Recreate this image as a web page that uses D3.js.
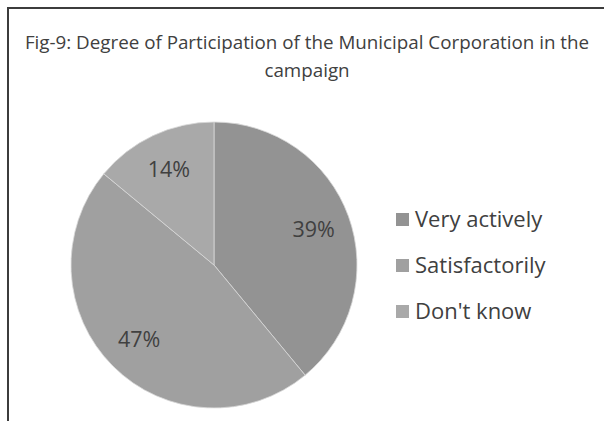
<!DOCTYPE html>
<html>
<head>
<meta charset="utf-8">
<script src="https://cdn.jsdelivr.net/npm/d3@7"></script>
<style>
  html, body { margin: 0; padding: 0; background: #fff; }
  svg { display: block; }
</style>
</head>
<body>
<div id="chart"></div>
<script>
// Survey responses: municipal corporation participation
const categories = ["Very actively", "Satisfactorily", "Don't know"];
const values = [39, 47, 14];
const colors = ["#939393", "#a0a0a0", "#a9a9a9"];
const titleLines = ["Fig-9: Degree of Participation of the Municipal Corporation in the", "campaign"];

const W = 604, H = 421;
const font = "'Open Sans', 'DejaVu Sans', sans-serif";

const svg = d3.select("#chart").append("svg")
  .attr("width", W).attr("height", H);

svg.append("rect").attr("width", W).attr("height", H).attr("fill", "#fff");

// frame: top and left edges visible
svg.append("path")
  .attr("d", "M8,421 V8 H604")
  .attr("fill", "none")
  .attr("stroke", "#3c3c3c")
  .attr("stroke-width", 2);

// title
svg.append("text")
  .attr("x", 307).attr("y", 49)
  .attr("text-anchor", "middle")
  .attr("font-family", font).attr("font-size", 18.8)
  .attr("fill", "#404040")
  .selectAll("tspan").data(titleLines).join("tspan")
  .attr("x", 307)
  .attr("dy", (d, i) => i === 0 ? 0 : 28)
  .text(d => d);

// pie
const cx = 214, cy = 265, r = 143;
const pie = d3.pie().sort(null).value(d => d)(values);
const arc = d3.arc().innerRadius(0).outerRadius(r);
const labelArc = d3.arc().innerRadius(r * 0.74).outerRadius(r * 0.74);

const g = svg.append("g").attr("transform", `translate(${cx},${cy})`);
g.selectAll("path").data(pie).join("path")
  .attr("d", arc)
  .attr("fill", (d, i) => colors[i])
  .attr("stroke", "#d8d8d8")
  .attr("stroke-width", 0.8);

g.selectAll("text").data(pie).join("text")
  .attr("transform", d => `translate(${labelArc.centroid(d)})`)
  .attr("text-anchor", "middle")
  .attr("dy", "0.35em")
  .attr("font-family", font).attr("font-size", 21.5)
  .attr("fill", "#404040")
  .text(d => d.data + "%");

// legend
const legend = svg.append("g").attr("transform", "translate(396,219.5)");
const row = legend.selectAll("g").data(categories).join("g")
  .attr("transform", (d, i) => `translate(0,${i * 46})`);
row.append("rect")
  .attr("x", 0).attr("y", -6.5).attr("width", 13).attr("height", 13)
  .attr("fill", (d, i) => colors[i]);
row.append("text")
  .attr("x", 19).attr("y", 0).attr("dy", "0.35em")
  .attr("font-family", font).attr("font-size", 22)
  .attr("fill", "#404040")
  .text(d => d);
</script>
</body>
</html>
